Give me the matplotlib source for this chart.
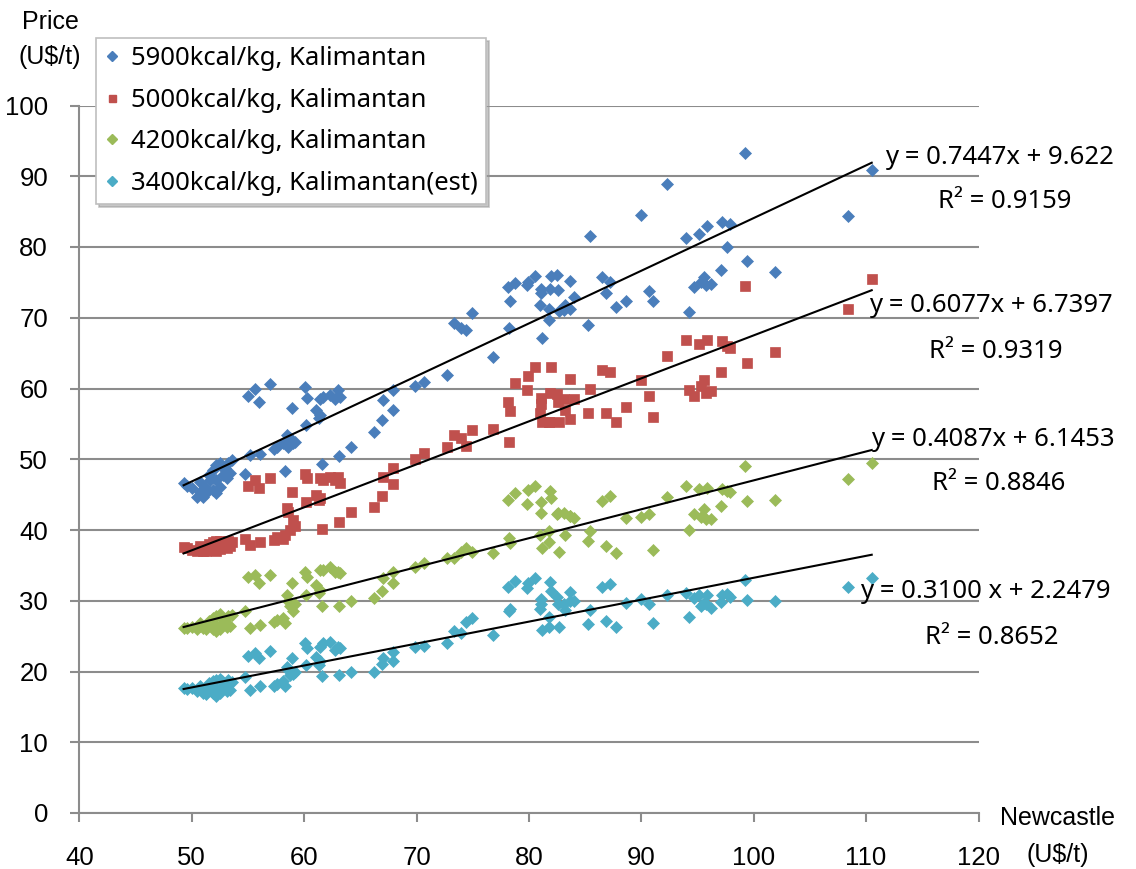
import matplotlib
matplotlib.use("Agg")
import matplotlib.pyplot as plt
from matplotlib.lines import Line2D
import numpy as np

# Newcastle benchmark price (U$/t) for each observation
newcastle = [
    49.28, 49.55, 50.0, 50.45, 50.7, 50.7, 51.0, 51.2, 51.3, 51.5, 51.6, 51.9, 51.9,
    52.2, 52.2, 52.2, 52.5, 52.5, 52.7, 52.8, 53.0, 53.1, 53.25, 53.4, 53.6,
    54.7, 55.0, 55.2, 55.6, 56.0, 56.1, 57.0,
    57.3, 57.55, 58.15, 58.3, 58.45, 58.6, 58.75, 58.9, 59.05, 59.2,
    60.1, 60.2, 60.3, 61.1, 61.3, 61.4, 61.45, 61.6, 61.65, 62.3, 62.75, 63.05, 63.1, 63.2, 64.2,
    66.2, 66.9, 67.0, 67.9, 67.95, 69.9, 70.7, 72.7, 73.3, 74.0, 74.4, 74.9, 76.8,
    78.1, 78.2, 78.3, 78.8, 79.8, 79.95, 80.5,
    81.0, 81.05, 81.1, 81.2, 81.75, 81.8, 81.9, 81.95, 82.5, 82.55, 82.7, 83.1, 83.2,
    83.65, 83.7, 84.0,
    85.3, 85.4, 86.5, 86.9, 87.2, 87.75, 88.6, 90.0, 90.7, 91.0, 92.3,
    94.0, 94.2, 94.7, 95.1, 95.3, 95.6, 95.8, 95.85, 96.2, 97.1, 97.2, 97.6, 97.9,
    99.2, 99.4, 101.9, 108.4, 110.5,
]

kal_5900 = [
    46.6, 46.2, 45.9, 44.7, 45.4, 46.8, 44.7, 46.1, 45.2, 47.8, 47.1, 48.5, 45.7,
    49.2, 47.1, 45.2, 49.4, 46.1, 48.9, 47.8, 48.7, 47.3, 49.4, 48.0, 49.9,
    47.9, 58.9, 50.6, 59.9, 58.1, 50.8, 60.6,
    51.5, 51.8, 52.3, 48.4, 53.4, 51.8, 53.0, 57.3, 52.3, 52.5,
    60.2, 54.9, 58.7, 57.0, 55.8, 56.3, 58.5, 49.3, 58.8, 59.1, 58.5, 59.8, 50.5, 58.8, 51.8,
    53.8, 55.5, 58.4, 56.9, 59.8, 60.4, 60.9, 61.9, 69.3, 68.6, 68.3, 70.7, 64.4,
    74.3, 68.5, 72.4, 74.9, 74.6, 75.1, 75.9,
    71.8, 73.5, 74.0, 67.1, 69.7, 71.2, 74.0, 75.9, 76.0, 73.9, 70.9, 71.1, 71.8,
    71.2, 75.2, 73.0,
    69.0, 81.6, 75.7, 73.5, 75.1, 71.5, 72.4, 84.5, 73.8, 72.3, 88.9,
    81.3, 70.8, 74.4, 81.8, 75.0, 75.7, 74.6, 83.0, 74.7, 76.8, 83.6, 80.0, 83.3,
    93.3, 78.0, 76.5, 84.4, 90.9,
]

kal_5000 = [
    37.6, 37.4, 37.2, 37.0, 37.3, 37.8, 37.0, 37.5, 37.1, 38.0, 37.6, 38.3, 37.2,
    38.4, 37.6, 37.0, 38.5, 37.3, 38.2, 37.8, 38.0, 37.5, 38.4, 37.7, 38.3,
    38.7, 46.2, 37.9, 47.1, 45.9, 38.3, 47.3,
    38.6, 39.0, 38.7, 39.3, 43.1, 42.6, 40.0, 45.4, 41.4, 40.5,
    47.9, 43.9, 47.3, 44.9, 44.2, 44.5, 47.3, 40.2, 47.0, 47.5, 47.1, 47.5, 41.2, 46.6, 42.6,
    43.2, 44.8, 47.5, 46.5, 48.7, 50.1, 50.9, 51.8, 53.4, 53.0, 51.9, 54.1, 54.3,
    58.1, 52.5, 56.8, 60.8, 59.8, 61.7, 63.0,
    56.6, 57.8, 58.7, 55.2, 55.2, 55.2, 59.3, 63.0, 59.2, 58.1, 55.2, 58.5, 56.9,
    55.7, 61.3, 58.5,
    56.6, 59.9, 62.6, 56.5, 62.4, 55.3, 57.4, 61.2, 58.9, 56.0, 64.6,
    66.8, 59.8, 58.9, 66.3, 60.3, 61.2, 59.3, 66.8, 59.6, 62.3, 66.7, 66.0, 65.7,
    74.5, 63.6, 65.2, 71.3, 75.5,
]

kal_4200 = [
    26.2, 26.1, 26.3, 26.0, 26.4, 26.8, 26.2, 26.5, 26.0, 27.2, 26.7, 27.5, 26.0,
    27.9, 26.6, 25.7, 28.1, 26.0, 27.6, 26.9, 27.4, 26.3, 27.9, 26.5, 28.0,
    28.6, 33.3, 26.1, 33.6, 32.5, 26.6, 33.7,
    27.0, 27.3, 27.5, 26.8, 30.8, 29.9, 29.2, 32.5, 28.5, 29.5,
    34.0, 30.8, 33.4, 32.2, 31.1, 31.5, 34.4, 29.3, 34.3, 34.7, 34.1, 34.1, 29.3, 33.9, 29.9,
    30.4, 31.4, 33.2, 32.5, 34.0, 34.8, 35.4, 36.0, 36.0, 36.9, 37.5, 36.9, 36.8,
    44.3, 38.8, 38.1, 45.3, 43.7, 45.7, 46.2,
    39.3, 43.9, 42.4, 37.5, 38.3, 39.8, 45.5, 44.5, 42.2, 42.4, 36.9, 42.4, 39.3,
    42.0, 42.0, 41.7,
    38.4, 39.8, 44.1, 37.7, 44.8, 36.8, 41.7, 41.9, 42.3, 37.2, 44.6,
    46.2, 40.0, 42.2, 45.8, 41.8, 43.0, 41.6, 46.0, 41.6, 43.4, 45.8, 45.5, 45.4,
    49.0, 44.1, 44.2, 47.2, 49.5,
]

kal_3400 = [
    17.7, 17.5, 17.6, 17.2, 17.8, 18.0, 17.0, 17.6, 16.8, 18.4, 17.9, 18.6, 16.9,
    18.8, 17.5, 16.6, 19.0, 17.0, 18.7, 17.9, 18.2, 17.2, 18.8, 17.4, 18.5,
    19.2, 22.2, 17.4, 22.6, 21.9, 17.9, 22.9,
    17.9, 18.3, 18.6, 18.0, 20.7, 20.2, 19.5, 21.9, 19.7, 20.0,
    24.0, 20.9, 23.3, 22.1, 20.9, 21.5, 23.4, 19.4, 24.0, 24.2, 23.0, 23.5, 19.5, 23.3, 19.9,
    20.0, 21.0, 21.9, 21.5, 22.8, 23.4, 23.6, 24.0, 25.7, 25.5, 27.0, 27.5, 25.2,
    31.9, 28.5, 28.9, 32.8, 31.8, 32.5, 33.2,
    28.8, 29.6, 30.3, 25.9, 26.3, 27.7, 32.7, 31.4, 30.5, 29.6, 26.3, 29.6, 28.7,
    31.3, 29.9, 29.9,
    26.7, 28.7, 32.0, 27.2, 32.4, 26.3, 29.7, 30.3, 29.6, 26.9, 30.8,
    31.1, 27.7, 30.4, 30.8, 29.2, 29.7, 29.5, 30.8, 29.0, 29.8, 30.8, 31.0, 30.6,
    33.0, 30.1, 29.9, 31.9, 33.2,
]

series_labels = [
    "5900kcal/kg, Kalimantan",
    "5000kcal/kg, Kalimantan",
    "4200kcal/kg, Kalimantan",
    "3400kcal/kg, Kalimantan(est)",
]
series_colors = ["#4A7EBB", "#C0504D", "#9BBB59", "#4BACC6"]
series_markers = ["D", "s", "D", "D"]

# Linear trend lines (slope, intercept, R²) as reported on the chart
trend_slope = [0.7447, 0.6077, 0.4087, 0.3100]
trend_icept = [9.622, 6.7397, 6.1453, 2.2479]
trend_r2 = ["0.9159", "0.9319", "0.8846", "0.8652"]
trend_eq = [
    "y = 0.7447x + 9.622",
    "y = 0.6077x + 6.7397",
    "y = 0.4087x + 6.1453",
    "y = 0.3100 x + 2.2479",
]

W, H = 1136, 869
fig = plt.figure(figsize=(W / 100, H / 100), dpi=100)
fig.patch.set_facecolor("white")

# axes box in pixel coordinates
ax_l, ax_r, ax_t, ax_b = 79.3, 978.5, 105.5, 813.0
ax = fig.add_axes([ax_l / W, 1 - ax_b / H, (ax_r - ax_l) / W, (ax_b - ax_t) / H])

grid_col = "#8C8C8C"
ax.set_xlim(40, 120)
ax.set_ylim(0, 100)
ax.set_xticks(np.arange(40, 121, 10))
ax.set_yticks(np.arange(0, 101, 10))
ax.yaxis.grid(True, color=grid_col, linewidth=1.5, zorder=0)
ax.set_axisbelow(True)
for side in ("top", "right"):
    ax.spines[side].set_visible(False)
for side in ("left", "bottom"):
    ax.spines[side].set_color(grid_col)
    ax.spines[side].set_linewidth(1.5)
ax.tick_params(axis="both", direction="out", length=6.5, width=1.5, color=grid_col,
               labelsize=18.5, labelcolor="black")
ax.tick_params(axis="y", pad=16)
ax.tick_params(axis="x", pad=17)
for lbl in ax.get_xticklabels() + ax.get_yticklabels():
    lbl.set_fontfamily("Liberation Sans")

ys = [kal_5900, kal_5000, kal_4200, kal_3400]
sizes = [6.4, 7.0, 6.4, 6.4]
handles = []
for y, col, mk, ms, lab in zip(ys, series_colors, series_markers, sizes, series_labels):
    ax.plot(newcastle, y, linestyle="none", marker=mk, markersize=ms,
            markerfacecolor=col, markeredgecolor=col, markeredgewidth=0.5,
            clip_on=False, zorder=3)
    handles.append(Line2D([], [], linestyle="none", marker=mk, markersize=ms * 0.72,
                          markerfacecolor=col, markeredgecolor=col, label=lab))

# trend lines over the observed Newcastle range
xs = np.array([min(newcastle), max(newcastle)])
for a, b in zip(trend_slope, trend_icept):
    ax.plot(xs, a * xs + b, color="black", linewidth=1.5, zorder=4, clip_on=False)

eq_font = "Noto Sans"
eq_pos = [(885, 157, 938, 202), (869, 306, 929, 351), (871, 439, 932, 484), (860, 592, 925, 637)]
for (ex, ey, rx, ry), eq, r2 in zip(eq_pos, trend_eq, trend_r2):
    fig.text(ex / W, 1 - ey / H, eq, fontsize=18.5, family=eq_font, ha="left", va="center")
    fig.text(rx / W, 1 - ry / H, "R² = " + r2, fontsize=18.5, family=eq_font, ha="left", va="center")

# axis titles
title_font = dict(fontsize=18, family="Liberation Sans", ha="center", va="center")
fig.text(50 / W, 1 - 22 / H, "Price", **title_font)
fig.text(50 / W, 1 - 57 / H, "(U$/t)", **title_font)
fig.text(1058 / W, 1 - 818 / H, "Newcastle", **title_font)
fig.text(1058 / W, 1 - 855 / H, "(U$/t)", **title_font)

leg = fig.legend(handles=handles, loc="upper left", bbox_to_anchor=(96 / W, 1 - 38 / H),
                 bbox_transform=fig.transFigure, borderaxespad=0, frameon=True,
                 fancybox=False, shadow={"color": "#9a9a9a", "alpha": 0.55},
                 prop={"family": eq_font, "size": 18.5}, handlelength=0.6,
                 handletextpad=0.45, labelspacing=0.64, borderpad=0.32)
leg.get_frame().set_edgecolor("#BFBFBF")
leg.get_frame().set_linewidth(1.2)
leg.set_zorder(10)

fig.savefig("out.png", dpi=100, facecolor="white")
